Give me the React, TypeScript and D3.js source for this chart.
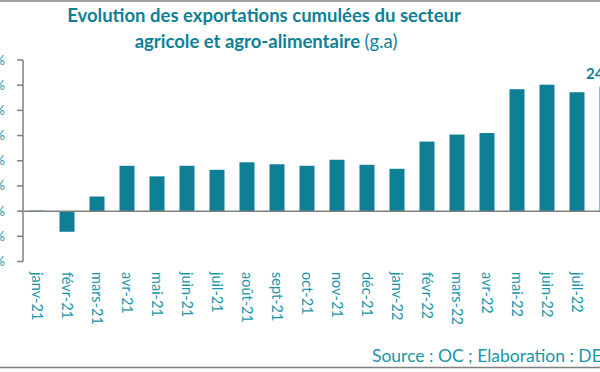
import * as d3 from 'd3'

const months = [
  'janv-21', 'févr-21', 'mars-21', 'avr-21', 'mai-21', 'juin-21', 'juil-21', 'août-21', 'sept-21', 'oct-21',
  'nov-21', 'déc-21', 'janv-22', 'févr-22', 'mars-22', 'avr-22', 'mai-22', 'juin-22', 'juil-22', 'août-22',
]
const growth = [0.1, -4.1, 2.9, 9.0, 6.9, 9.0, 8.2, 9.7, 9.3, 9.0, 10.2, 9.2, 8.4, 13.8, 15.2, 15.5, 24.2, 25.1, 23.6, 24.7]
const yTicks = [-10, -5, 0, 5, 10, 15, 20, 25, 30]
const lastLabel = '24,7%'

const W = 600
const H = 372
const teal = '#0f7f95'
const textTeal = '#1a95aa'
const gray = '#7f7f7f'
const font = 'Lato, "Open Sans", sans-serif'

export default function App() {
  const x = d3.scaleBand().domain(months).range([22, 622]).paddingInner(0.5).paddingOuter(0.25)
  const y = d3.scaleLinear().domain([-10, 30]).range([261.5, 60])
  const axisX = 23
  const last = months[months.length - 1]

  return (
    <svg width={W} height={H} viewBox={`0 0 ${W} ${H}`}
      style={{ position: 'absolute', left: 0, top: 0, display: 'block', background: '#fff' }}>
      {/* frame lines */}
      <line x1={0} x2={W} y1={1} y2={1} stroke={gray} strokeWidth={1.5} />
      <line x1={0} x2={W} y1={367.5} y2={367.5} stroke={gray} strokeWidth={1.5} />

      {/* title */}
      <text x={264} y={22} textAnchor="middle" fill={teal} fontFamily={font} fontWeight="bold" fontSize={18.5}>
        Evolution des exportations cumulées du secteur
      </text>
      <text x={266} y={48} textAnchor="middle" fill={teal} fontFamily={font} fontSize={18.5}>
        <tspan fontWeight="bold">agricole et agro-alimentaire </tspan>
        <tspan>(g.a)</tspan>
      </text>

      {/* bars */}
      {months.map((m, i) => (
        <rect key={m} x={x(m)} width={x.bandwidth()}
          y={y(Math.max(0, growth[i]))} height={Math.abs(y(growth[i]) - y(0))} fill={teal} />
      ))}

      {/* zero line */}
      <line x1={axisX} x2={W} y1={y(0)} y2={y(0)} stroke={gray} strokeWidth={1.5} />

      {/* y axis */}
      <line x1={axisX} x2={axisX} y1={y(30)} y2={y(-10)} stroke={gray} strokeWidth={1.5} />
      {yTicks.map(t => (
        <g key={t}>
          <line x1={axisX - 6} x2={axisX} y1={y(t)} y2={y(t)} stroke={gray} strokeWidth={1.5} />
          <text x={5} y={y(t)} dy="0.35em" textAnchor="end" fill={textTeal} fontFamily={font} fontSize={13}>
            {t}%
          </text>
        </g>
      ))}

      {/* x labels */}
      {months.map(m => (
        <text key={m} transform={`translate(${x(m)! + x.bandwidth() / 2},272) rotate(90)`}
          dy="0.35em" textAnchor="start" fill={textTeal} fontFamily={font} fontSize={14.5}>
          {m}
        </text>
      ))}

      {/* value label */}
      <text x={x(last)! + x.bandwidth() / 2} y={y(growth[growth.length - 1]) - 8} textAnchor="middle"
        fill={teal} fontFamily={font} fontWeight="bold" fontSize={15}>
        {lastLabel}
      </text>

      {/* source */}
      <text x={372} y={362} fill={textTeal} fontFamily={font} fontSize={17.5}>
        Source : OC ; Elaboration : DEPF
      </text>
    </svg>
  )
}
